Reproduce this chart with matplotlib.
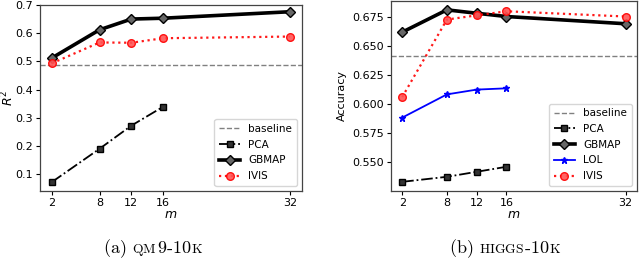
import numpy as np
import matplotlib
matplotlib.use("Agg")
import matplotlib.pyplot as plt
from matplotlib.offsetbox import TextArea, HPacker, AnchoredOffsetbox

m_all = [2, 8, 12, 16, 32]
m_short = [2, 8, 12, 16]

# (a) QM9-10K, R^2
qm9_baseline = 0.488
qm9_pca = [0.072, 0.190, 0.272, 0.339]
qm9_gbmap = [0.512, 0.612, 0.650, 0.653, 0.676]
qm9_ivis = [0.493, 0.567, 0.566, 0.582, 0.588]

# (b) HIGGS-10K, accuracy
higgs_baseline = 0.641
higgs_pca = [0.5334, 0.5377, 0.5420, 0.5463]
higgs_gbmap = [0.6616, 0.6807, 0.6778, 0.6750, 0.6688]
higgs_lol = [0.5884, 0.6083, 0.6124, 0.6135]
higgs_ivis = [0.6060, 0.6724, 0.6760, 0.6795, 0.6750]

fig = plt.figure(figsize=(6.4, 2.61), dpi=100)
ax1 = fig.add_axes([0.0625, 0.268, 0.4095, 0.713])
ax2 = fig.add_axes([0.611, 0.268, 0.384, 0.730])


def style_pca(ax, m, v):
  ax.plot(m, v, color='black', linestyle='-.', linewidth=1.3, marker='s',
          markersize=5, markerfacecolor='#333333', markeredgecolor='black', label='PCA')

def style_gbmap(ax, m, v):
  ax.plot(m, v, color='black', linestyle='-', linewidth=2.6, marker='D',
          markersize=5, markerfacecolor='#666666', markeredgecolor='black', label='GBMAP')

def style_ivis(ax, m, v):
  ax.plot(m, v, color='red', linestyle=':', linewidth=1.6, marker='o',
          markersize=5.5, markerfacecolor='#ff5555', markeredgecolor='red', alpha=0.9, label='IVIS')


# left panel
ax1.axhline(qm9_baseline, color='gray', linestyle='--', linewidth=1.0, label='baseline')
style_pca(ax1, m_short, qm9_pca)
style_gbmap(ax1, m_all, qm9_gbmap)
style_ivis(ax1, m_all, qm9_ivis)
ax1.set_ylim(0.04, 0.70)
ax1.set_yticks([0.1, 0.2, 0.3, 0.4, 0.5, 0.6, 0.7])
ax1.set_ylabel('$R^2$', fontsize=9)
ax1.yaxis.set_label_coords(-0.09, 0.5)

# right panel
ax2.axhline(higgs_baseline, color='gray', linestyle='--', linewidth=1.0, label='baseline')
style_pca(ax2, m_short, higgs_pca)
style_gbmap(ax2, m_all, higgs_gbmap)
ax2.plot(m_short, higgs_lol, color='blue', linestyle='-', linewidth=1.3, marker='*',
         markersize=5, label='LOL')
style_ivis(ax2, m_all, higgs_ivis)
ax2.set_ylim(0.5255, 0.6887)
ax2.set_yticks([0.550, 0.575, 0.600, 0.625, 0.650, 0.675])
ax2.set_yticklabels(['0.550', '0.575', '0.600', '0.625', '0.650', '0.675'])
ax2.set_ylabel('Accuracy', fontsize=8)
ax2.yaxis.set_label_coords(-0.179, 0.5)

for ax in (ax1, ax2):
  ax.set_xlim(0.5, 33.5)
  ax.set_xticks(m_all)
  ax.set_xlabel('$m$', fontsize=9, labelpad=0)
  ax.tick_params(labelsize=8, length=3, width=0.8, pad=2)
  for s in ax.spines.values():
    s.set_color('#444444')
    s.set_linewidth(0.9)
  ax.legend(loc='lower right', fontsize=7.5, handlelength=2.0, labelspacing=0.55,
            borderpad=0.45, handletextpad=0.8, framealpha=0.8)


def caption(x, parts):
  boxes = []
  for txt, size in parts:
    if txt == ' ':
      boxes.append(TextArea(' ', textprops=dict(fontsize=size, family='serif')))
    else:
      boxes.append(TextArea(txt, textprops=dict(fontsize=size, math_fontfamily='cm')))
  pack = HPacker(children=boxes, align='baseline', pad=0, sep=0)
  anchored = AnchoredOffsetbox(loc='center', child=pack, frameon=False,
                               bbox_to_anchor=(x, 0.046), bbox_transform=fig.transFigure,
                               borderpad=0)
  fig.add_artist(anchored)


big, small = 13, 9.8
caption(0.239, [(r'$\mathrm{(a)}$', big), (' ', big), (r'$\mathrm{QM}$', small),
                (r'$\mathrm{9\text{-}10}$', big), (r'$\mathrm{K}$', small)])
caption(0.789, [(r'$\mathrm{(b)}$', big), (' ', big), (r'$\mathrm{HIGGS}$', small),
                (r'$\mathrm{\text{-}10}$', big), (r'$\mathrm{K}$', small)])

fig.savefig('out.png', dpi=100)
